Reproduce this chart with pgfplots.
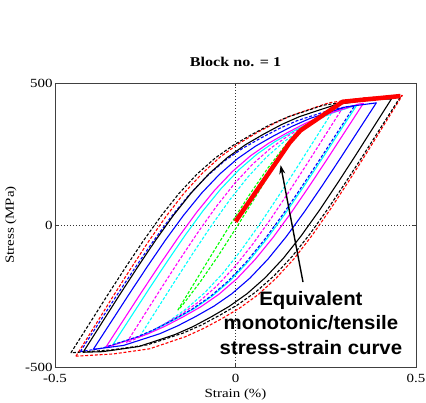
\documentclass[border=0pt]{standalone}
\usepackage{fontspec}
\setmainfont{Liberation Serif}
\newfontfamily\tickfont[FakeStretch=1.2]{Liberation Serif}
\newfontfamily\notefont[FakeStretch=1.05]{Liberation Sans}
\usepackage{pgfplots}
\pgfplotsset{compat=1.18}
\usetikzlibrary{arrows.meta}

\definecolor{mgreen}{rgb}{0,1,0}
\definecolor{mcyan}{rgb}{0,1,1}
\definecolor{mmag}{rgb}{1,0,1}
\definecolor{mblue}{rgb}{0,0,1}
\definecolor{mred}{rgb}{1,0,0}

\tikzset{
  dsh/.style={dash pattern=on 3bp off 1.8bp},
  lp/.style={line width=1.1bp, line join=round},
}

\begin{document}
\begin{tikzpicture}
\begin{axis}[
    scale only axis,
    width=361bp, height=284bp,
    xmin=-0.5, xmax=0.5, ymin=-500, ymax=500,
    xtick={-0.5,0,0.5}, xticklabels={-0.5,0,0.5},
    ytick={-500,0,500}, yticklabels={-500,0,500},
    tick label style={font=\tickfont\fontsize{12.5}{14}\selectfont},
    yticklabel style={xshift=1bp},
    xticklabel style={yshift=-3.5bp},
    major tick length=3bp,
    axis line style={black!75, line width=0.9bp},
    tick style={black!75},
    title={\bfseries Block no. = 1},
    title style={font=\tickfont\fontsize{13.5}{15}\selectfont, at={(axis description cs:0.5,1.052)}, anchor=center},
    xlabel={Strain (\%)},
    xlabel style={font=\tickfont\fontsize{12.5}{14}\selectfont, at={(axis description cs:0.5,-0.096)}, anchor=center},
    ylabel={Stress (MPa)},
    ylabel style={font=\tickfont\fontsize{12.5}{14}\selectfont, at={(axis description cs:-0.122,0.5)}, anchor=center},
]
% zero lines
\draw[black!80, line width=0.8bp, dash pattern=on 1.2bp off 1.8bp] (axis cs:-0.5,0) -- (axis cs:0.5,0);
\draw[black!80, line width=0.8bp, dash pattern=on 1.2bp off 1.8bp] (axis cs:0,-500) -- (axis cs:0,500);

% green dashed
\addplot[mgreen, lp, dsh] coordinates {
(-0.16,-300) (-0.11,-196) (-0.06,-92) (-0.01,10) (0.04,109) (0.09,201) (0.14,284) (0.152,300)
(0.102,196) (0.052,92) (0.002,-10) (-0.048,-109) (-0.098,-201) (-0.148,-284) (-0.16,-300)};
% cyan dashed
\addplot[mcyan, lp, dsh] coordinates {
(-0.265,-392) (-0.215,-292) (-0.165,-192) (-0.115,-94) (-0.065,1) (-0.015,90) (0.035,170) (0.085,238) (0.135,294) (0.185,339) (0.235,376) (0.265,392)
(0.215,292) (0.165,192) (0.115,94) (0.065,-1) (0.015,-90) (-0.035,-170) (-0.085,-238) (-0.135,-294) (-0.185,-339) (-0.235,-376) (-0.265,-392)};
% magenta dashed
\addplot[mmag, lp, dsh] coordinates {
(-0.302,-415) (-0.252,-315) (-0.202,-215) (-0.152,-117) (-0.102,-22) (-0.052,67) (-0.002,147) (0.048,215) (0.098,271) (0.148,316) (0.198,353) (0.248,387) (0.298,415)
(0.248,315) (0.198,215) (0.148,117) (0.098,22) (0.048,-67) (-0.002,-147) (-0.052,-215) (-0.102,-271) (-0.152,-316) (-0.202,-353) (-0.252,-387) (-0.302,-415)};
% cyan solid
\addplot[mcyan, lp] coordinates {
(-0.34,-422) (-0.29,-324) (-0.24,-226) (-0.19,-130) (-0.14,-37) (-0.09,50) (-0.04,128) (0.01,195) (0.06,250) (0.11,294) (0.16,330) (0.21,363) (0.26,391) (0.336,422)
(0.286,324) (0.236,226) (0.186,130) (0.136,37) (0.086,-50) (0.036,-128) (-0.014,-195) (-0.064,-250) (-0.114,-294) (-0.164,-330) (-0.214,-363) (-0.264,-391) (-0.34,-422)};
% magenta solid
\addplot[mmag, lp] coordinates {
(-0.358,-428) (-0.308,-330) (-0.258,-232) (-0.208,-136) (-0.158,-43) (-0.108,44) (-0.058,122) (-0.008,189) (0.042,244) (0.092,288) (0.142,324) (0.192,357) (0.242,385) (0.342,426) (0.354,428)
(0.304,330) (0.254,232) (0.204,136) (0.154,43) (0.104,-44) (0.054,-122) (0.004,-189) (-0.046,-244) (-0.096,-288) (-0.146,-324) (-0.196,-357) (-0.246,-385) (-0.346,-426) (-0.358,-428)};
% blue dashed
\addplot[mblue, lp, dsh] coordinates {
(-0.43,-446) (-0.38,-348) (-0.33,-250) (-0.28,-154) (-0.23,-61) (-0.18,26) (-0.13,104) (-0.08,171) (-0.03,226) (0.02,270) (0.07,306) (0.12,339) (0.17,367) (0.27,408) (0.33,420)
(0.28,322) (0.23,224) (0.18,128) (0.13,35) (0.08,-52) (0.03,-130) (-0.02,-197) (-0.07,-252) (-0.12,-296) (-0.17,-332) (-0.22,-365) (-0.27,-393) (-0.37,-434) (-0.43,-446)};
% blue solid
\addplot[mblue, lp] coordinates {
(-0.394,-438) (-0.344,-340) (-0.294,-242) (-0.244,-146) (-0.194,-53) (-0.144,34) (-0.094,112) (-0.044,179) (0.006,234) (0.056,278) (0.106,314) (0.156,347) (0.206,375) (0.306,416) (0.39,430)
(0.34,332) (0.29,234) (0.24,138) (0.19,45) (0.14,-42) (0.09,-120) (0.04,-187) (-0.01,-242) (-0.06,-286) (-0.11,-322) (-0.16,-355) (-0.21,-383) (-0.31,-424) (-0.394,-438)};
% black solid
\addplot[black, lp] coordinates {
(-0.422,-448) (-0.372,-348) (-0.322,-248) (-0.272,-150) (-0.222,-55) (-0.172,34) (-0.122,114) (-0.072,182) (-0.022,238) (0.028,283) (0.078,320) (0.128,354) (0.178,382) (0.278,424) (0.378,442) (0.432,444)
(0.382,344) (0.332,244) (0.282,146) (0.232,51) (0.182,-38) (0.132,-118) (0.082,-186) (0.032,-242) (-0.018,-287) (-0.068,-324) (-0.118,-358) (-0.168,-386) (-0.268,-428) (-0.368,-446) (-0.422,-448)};
% red dashed
\addplot[mred, lp, dsh] coordinates {
(-0.442,-462) (-0.392,-360) (-0.342,-257) (-0.292,-157) (-0.242,-60) (-0.192,31) (-0.142,113) (-0.092,182) (-0.042,240) (0.008,286) (0.058,324) (0.108,358) (0.158,387) (0.258,430) (0.358,448) (0.462,456)
(0.412,354) (0.362,251) (0.312,151) (0.262,54) (0.212,-37) (0.162,-119) (0.112,-188) (0.062,-246) (0.012,-292) (-0.038,-330) (-0.088,-364) (-0.138,-393) (-0.238,-436) (-0.338,-454) (-0.442,-462)};
% black dashed
\addplot[black, lp, dsh] coordinates {
(-0.456,-450) (-0.406,-350) (-0.356,-250) (-0.306,-152) (-0.256,-57) (-0.206,32) (-0.156,112) (-0.106,180) (-0.056,236) (-0.006,281) (0.044,318) (0.094,352) (0.144,380) (0.244,422) (0.344,440) (0.456,450)
(0.406,350) (0.356,250) (0.306,152) (0.256,57) (0.206,-32) (0.156,-112) (0.106,-180) (0.056,-236) (0.006,-281) (-0.044,-318) (-0.094,-352) (-0.144,-380) (-0.244,-422) (-0.344,-440) (-0.456,-450)};

% equivalent monotonic curve
\addplot[mred, line width=4.5bp, line join=round] coordinates {
(0,12) (0.15,290) (0.18,333) (0.297,434) (0.457,454)};

\draw[-{Stealth[length=9bp,width=6bp]}, line width=1.4bp] (axis cs:0.187,-201) -- (axis cs:0.125,211);
\node[font=\notefont\fontsize{19.5}{24.5}\selectfont\bfseries, align=center] at (axis cs:0.209,-345)
  {Equivalent\\monotonic/tensile\\stress-strain curve};
\end{axis}
\pgfresetboundingbox
\path[use as bounding box] ([shift={(-55bp,-36bp)}]current axis.south west) rectangle ([shift={(10bp,83bp)}]current axis.north east);
\end{tikzpicture}
\end{document}
